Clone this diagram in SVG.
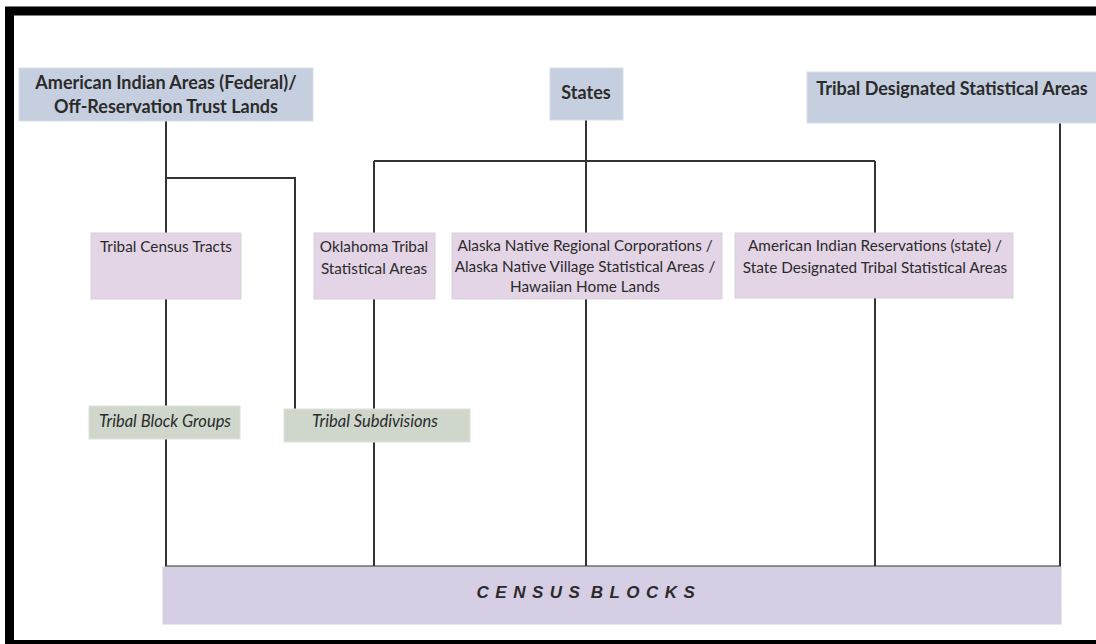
<svg xmlns="http://www.w3.org/2000/svg" width="1096" height="644" viewBox="0 0 1096 644">
<style>
.t{font-family:Lato,"Liberation Sans",sans-serif;fill:#2b2b2b;text-anchor:middle}
.hd{font-size:18px;font-weight:bold}
.md{font-size:15.3px}
.it{font-size:16.5px;font-style:italic}
.cb{font-family:"Liberation Sans",Arial,sans-serif;font-size:17px;font-style:italic;font-weight:bold;letter-spacing:6.5px;word-spacing:-7px;fill:#2b2b2b;text-anchor:middle}
.blue{fill:#c6cfdf;stroke:#d9dde6;stroke-width:1}
.pink{fill:#e3d4e6;stroke:#d8d2da;stroke-width:1}
.green{fill:#cfd6cc;stroke:#dfe2dd;stroke-width:1}
.base{fill:#d5cee4;stroke:#d3d3d8;stroke-width:1}
.ln{fill:none;stroke:#333;stroke-width:2}
</style>
<rect x="0" y="0" width="1096" height="644" fill="#fff"/>
<rect x="9.5" y="11" width="1100" height="633.5" fill="none" stroke="#000" stroke-width="9"/>
<g id="connectors">
<path class="ln" d="M166 121V566M166 178H295V409"/>
<path class="ln" d="M586 120V566M374 161H875M374 161V566M875 161V566"/>
<path class="ln" d="M1060 123V566"/>
<path class="ln" d="M165 566.5H1061"/>
</g>
<g id="aia">
<rect class="blue" x="19" y="68" width="294" height="53"/>
<text class="t hd" x="166" y="89">American Indian Areas (Federal)/</text>
<text class="t hd" x="166" y="113">Off-Reservation Trust Lands</text>
</g>
<g id="states">
<rect class="blue" x="550" y="68" width="73" height="52"/>
<text class="t hd" x="586" y="99">States</text>
</g>
<g id="tdsa">
<rect class="blue" x="807" y="72" width="295" height="51"/>
<text class="t hd" x="952" y="95">Tribal Designated Statistical Areas</text>
</g>
<g id="tct">
<rect class="pink" x="91" y="233" width="150" height="66"/>
<text class="t md" x="166" y="252">Tribal Census Tracts</text>
</g>
<g id="otsa">
<rect class="pink" x="314" y="233" width="121" height="66"/>
<text class="t md" x="374" y="252">Oklahoma Tribal</text>
<text class="t md" x="374" y="274">Statistical Areas</text>
</g>
<g id="alaska">
<rect class="pink" x="452" y="233" width="270" height="66"/>
<text class="t md" x="585" y="251">Alaska Native Regional Corporations /</text>
<text class="t md" x="585" y="272">Alaska Native Village Statistical Areas /</text>
<text class="t md" x="585" y="292">Hawaiian Home Lands</text>
</g>
<g id="air">
<rect class="pink" x="735" y="233" width="278" height="65"/>
<text class="t md" x="875" y="251">American Indian Reservations (state) /</text>
<text class="t md" x="875" y="273">State Designated Tribal Statistical Areas</text>
</g>
<g id="tbg">
<rect class="green" x="89" y="406" width="151" height="33"/>
<text class="t it" x="165" y="427">Tribal Block Groups</text>
</g>
<g id="tsub">
<rect class="green" x="284" y="409" width="186" height="33"/>
<text class="t it" x="375" y="427">Tribal Subdivisions</text>
</g>
<g id="census-blocks">
<rect class="base" x="163" y="567" width="898" height="57"/>
<text class="cb" x="589" y="598">CENSUS BLOCKS</text>
</g>
</svg>
